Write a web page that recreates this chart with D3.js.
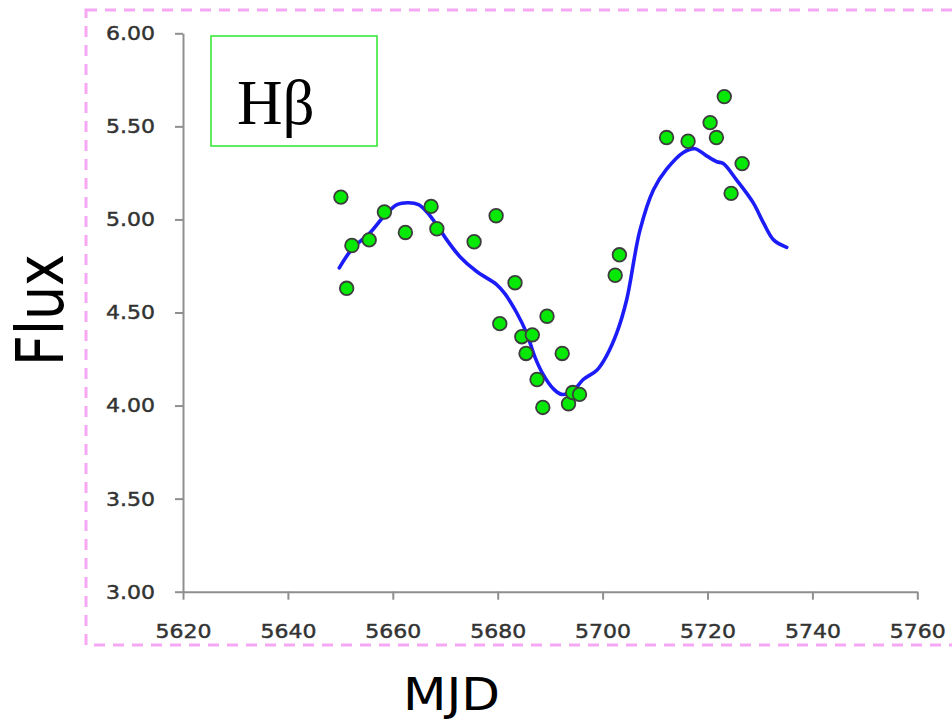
<!DOCTYPE html>
<html>
<head>
<meta charset="utf-8">
<script src="https://cdn.jsdelivr.net/npm/d3@7"></script>
<style>
  html, body { margin: 0; padding: 0; background: #fff; }
  svg { display: block; }
</style>
</head>
<body>
<svg id="chart" width="952" height="721"></svg>
<script>
// Observed H-beta flux per epoch (MJD - 50000)
const obsMjd = [5650.1, 5651.2, 5652.2, 5655.5, 5658.4, 5662.4, 5667.3, 5668.4,
  5675.5, 5679.7, 5680.4, 5683.3, 5684.6, 5685.4, 5686.6, 5687.5, 5688.6,
  5689.4, 5692.3, 5693.5, 5694.3, 5695.6, 5702.4, 5703.2, 5712.2, 5716.3,
  5720.5, 5721.7, 5723.2, 5724.5, 5726.6];
const obsFlux = [5.12, 4.63, 4.86, 4.89, 5.04, 4.93, 5.07, 4.95,
  4.88, 5.02, 4.44, 4.66, 4.37, 4.28, 4.38, 4.14, 3.99,
  4.48, 4.28, 4.01, 4.07, 4.06, 4.70, 4.81, 5.44, 5.42,
  5.52, 5.44, 5.66, 5.14, 5.30];

// Smoothed light curve
const fitMjd = [5649.8, 5652.2, 5655.7, 5658.4, 5660.8, 5663.0, 5664.9, 5666.5,
  5668.4, 5670.3, 5672.8, 5676.0, 5679.8, 5681.4, 5683.6, 5685.5, 5687.1,
  5688.6, 5690.6, 5692.2, 5694.4, 5696.3, 5698.9, 5700.8, 5702.7, 5704.6,
  5707.1, 5709.7, 5712.2, 5715.4, 5717.6, 5719.9, 5721.8, 5723.0, 5725.6,
  5728.7, 5730.7, 5732.6, 5735.1];
const fitFlux = [4.74, 4.84, 4.93, 5.02, 5.08, 5.09, 5.08, 5.04,
  4.97, 4.89, 4.80, 4.72, 4.65, 4.60, 4.50, 4.39, 4.26,
  4.17, 4.09, 4.06, 4.08, 4.14, 4.19, 4.27, 4.39, 4.57,
  4.94, 5.16, 5.27, 5.36, 5.38, 5.34, 5.31, 5.30, 5.21,
  5.09, 4.98, 4.89, 4.85];

const xTicks = [5620, 5640, 5660, 5680, 5700, 5720, 5740, 5760];
const yTicks = [3.0, 3.5, 4.0, 4.5, 5.0, 5.5, 6.0];

const svg = d3.select("#chart");

// Plot area edges
const plotLeft = 183, plotRight = 917.3, plotTop = 33.3, plotBottom = 591.7;
const x = d3.scaleLinear().domain([5620, 5760]).range([plotLeft, plotRight]);
const y = d3.scaleLinear().domain([3, 6]).range([plotBottom, plotTop]);

// Outer dashed border
svg.append("rect")
  .attr("x", 86).attr("y", 10).attr("width", 870).attr("height", 635)
  .attr("fill", "none").attr("stroke", "#f6a8f4").attr("stroke-width", 3)
  .attr("stroke-dasharray", "11 8");

// Axes
const axisColor = "#8f8f8f";
const tickFont = "'DejaVu Sans', Verdana, sans-serif";

const yAxis = svg.append("g")
  .attr("transform", `translate(${plotLeft},0)`)
  .call(d3.axisLeft(y).tickValues(yTicks).tickFormat(d3.format(".2f"))
    .tickSize(8).tickSizeOuter(0).tickPadding(20));
const xAxis = svg.append("g")
  .attr("transform", `translate(0,${plotBottom})`)
  .call(d3.axisBottom(x).tickValues(xTicks).tickFormat(d3.format("d"))
    .tickSize(8).tickSizeOuter(0).tickPadding(24));

[yAxis, xAxis].forEach(g => {
  g.select(".domain").attr("stroke", axisColor).attr("stroke-width", 2);
  g.selectAll(".tick line").attr("stroke", axisColor).attr("stroke-width", 2);
  g.selectAll(".tick text")
    .attr("fill", "#333")
    .attr("stroke", "#333")
    .attr("stroke-width", 0.45)
    .style("font-family", tickFont)
    .style("font-size", "20px")
    .each(function () {
      // slightly wider glyphs than the font's natural set width
      const w = this.getComputedTextLength();
      d3.select(this).attr("textLength", w * 1.1).attr("lengthAdjust", "spacingAndGlyphs");
    });
});

// Fitted curve
const line = d3.line()
  .x((d, i) => x(fitMjd[i]))
  .y((d, i) => y(fitFlux[i]))
  .curve(d3.curveCatmullRom.alpha(0.5));
svg.append("path")
  .datum(fitMjd)
  .attr("d", line)
  .attr("fill", "none")
  .attr("stroke", "#1c1cf8")
  .attr("stroke-width", 3.6)
  .attr("stroke-linejoin", "round")
  .attr("stroke-linecap", "round");

// Observations
svg.append("g").selectAll("circle")
  .data(obsMjd)
  .join("circle")
  .attr("cx", d => x(d))
  .attr("cy", (d, i) => y(obsFlux[i]))
  .attr("r", 6.8)
  .attr("fill", "#06e806")
  .attr("stroke", "#3d3d3d")
  .attr("stroke-width", 1.8);

// Line label box
svg.append("rect")
  .attr("x", 211).attr("y", 36).attr("width", 166).attr("height", 110)
  .attr("fill", "none").attr("stroke", "#2ee62e").attr("stroke-width", 1.5);
svg.append("text")
  .attr("x", 237).attr("y", 124)
  .style("font-family", "'Liberation Serif', 'Times New Roman', serif")
  .style("font-size", "63px")
  .attr("fill", "#000")
  .text("Hβ");

// Axis titles
svg.append("text")
  .attr("transform", "translate(63,310) rotate(-90)")
  .attr("text-anchor", "middle")
  .attr("textLength", 112)
  .attr("lengthAdjust", "spacingAndGlyphs")
  .style("font-family", "'DejaVu Sans', sans-serif")
  .style("font-size", "65px")
  .attr("fill", "#000")
  .text("Flux");
svg.append("text")
  .attr("x", 451.5).attr("y", 710)
  .attr("text-anchor", "middle")
  .attr("textLength", 97)
  .attr("lengthAdjust", "spacingAndGlyphs")
  .style("font-family", "'DejaVu Sans', sans-serif")
  .style("font-size", "45px")
  .attr("fill", "#000")
  .text("MJD");
</script>
</body>
</html>
